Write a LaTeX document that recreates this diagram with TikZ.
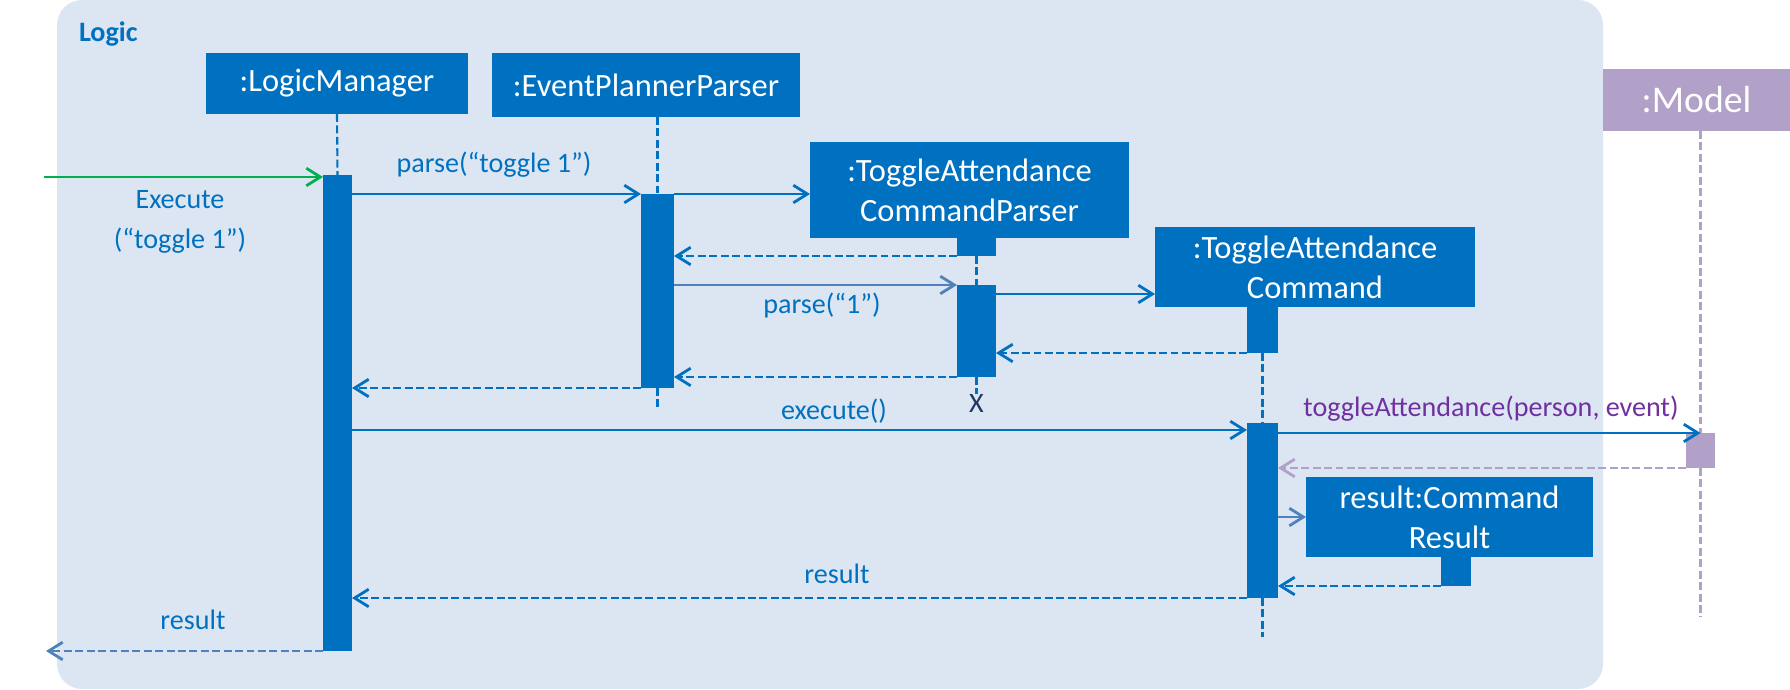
\documentclass[tikz,border=0pt]{standalone}
\usepackage{fontspec}
\setmainfont{Carlito}
\usepackage{tikz}
\usetikzlibrary{arrows.meta}
\usetikzlibrary{calc}
\usetikzlibrary{fit}
\definecolor{boxblue}{HTML}{0070C0}
\definecolor{logicbg}{HTML}{DCE6F2}
\definecolor{modelpurple}{HTML}{B1A0C7}
\definecolor{callpurple}{HTML}{7030A0}
\definecolor{startgreen}{HTML}{00B050}
\definecolor{softblue}{HTML}{4F81BD}
\definecolor{endnavy}{HTML}{1F3864}
\tikzset{
  every node/.style = {font = \fontsize{16}{22.5}\selectfont, inner sep=0pt, outer sep=0pt}
}
\tikzset{
    >={Straight Barb[length=8pt,width=10pt]}
}
\tikzset{
  lifebox/.style = {fill=boxblue, text=white, align=center, font=\fontsize{18.5}{22.8}\selectfont},
  activation/.style = {fill=boxblue},
  lifeline/.style = {draw=boxblue, line width=1.2pt, dash pattern=on 4.5pt off 2pt},
  call/.style = {->, draw=boxblue, line width=1.6pt},
  reply/.style = {->, draw=boxblue, line width=1.6pt, dash pattern=on 4.5pt off 2pt},
  msglabel/.style = {text=boxblue, anchor=base}
}
\newcommand{\actbar}[5]{
  \node[activation, fit={(#2,#3) (#4,#5)}] (#1) {};
}
\begin{document}
\begin{tikzpicture}[x=0.02cm, y=-0.02cm]
  \useasboundingbox (0,0) rectangle (1790,689);
  \fill[logicbg, rounded corners=0.5cm] (57,0) rectangle (1603,689);
  \node[anchor=base west, text=boxblue, font=\fontsize{16}{19}\selectfont\bfseries] (logic) at (79,42) {Logic};

  \node[lifebox, minimum width=5.24cm, minimum height=1.22cm] (lm) at (337,83.5) {:LogicManager};
  \node[lifebox, minimum width=6.16cm, minimum height=1.28cm] (epp) at (646,85) {:EventPlannerParser};
  \node[lifebox, minimum width=6.38cm, minimum height=1.92cm] (tacp) at (969.5,190) {:ToggleAttendance\\CommandParser};
  \node[lifebox, minimum width=6.4cm, minimum height=1.6cm] (tac) at (1315,267) {:ToggleAttendance\\Command};
  \node[lifebox, fill=modelpurple, font=\fontsize{21.5}{26}\selectfont, minimum width=3.74cm, minimum height=1.24cm] (model) at (1696.5,100) {:Model};
  \node[lifebox, minimum width=5.74cm, minimum height=1.6cm] (res) at (1449.5,517) {result:Command\\Result};

  \actbar{lmbar}{323}{175}{352}{651}
  \actbar{eppbar}{641}{194}{674}{388}
  \actbar{tacpa}{957}{238}{996}{256}
  \actbar{tacpb}{957}{285}{996}{377}
  \actbar{taca}{1247}{307}{1278}{353}
  \actbar{tacb}{1247}{423}{1278}{598}
  \actbar{resa}{1441}{557}{1471}{586}
  \node[fill=modelpurple, fit={(1686,433) (1715,468)}] (modelbar) {};

  \coordinate (eppend) at (657.5,407);
  \coordinate (tacend) at (1262.5,637);
  \coordinate (modelend) at (1700.5,617);
  \node[text=endnavy, anchor=base] (tacpx) at (976.5,412) {X};

  \draw[lifeline] (lm.south) -- (lmbar.north);
  \draw[lifeline] (eppbar.north |- epp.south) -- (eppbar.north);
  \draw[lifeline] (eppbar.south) -- (eppend);
  \draw[lifeline] (tacpa.south) -- (tacpb.north);
  \draw[lifeline] (tacpb.south) -- (tacpx.north);
  \draw[lifeline] (taca.south) -- (tacb.north);
  \draw[lifeline] (tacb.south) -- (tacend);
  \draw[lifeline, draw=modelpurple] (modelbar.north |- model.south) -- (modelbar.north);
  \draw[lifeline, draw=modelpurple] (modelbar.south) -- (modelend);

  \coordinate (start) at (44,177);
  \draw[call, draw=startgreen] (start) -- (start -| lmbar.west);
  \node[msglabel, anchor=center, align=center] (execin) at (180,222) {Execute\\(“toggle 1”)};

  \draw[call] (eppbar.north west -| lmbar.east) -- (eppbar.north west);
  \node[msglabel] (parselab) at (494,173) {parse(“toggle 1”)};
  \draw[call] (eppbar.north east) -- (eppbar.north east -| tacp.west);
  \draw[reply] (tacpa.south west) -- (tacpa.south west -| eppbar.east);
  \draw[call, draw=softblue] (tacpb.north west -| eppbar.east) -- (tacpb.north west);
  \node[msglabel] (parseonelab) at (822,313) {parse(“1”)};
  \coordinate (mk) at ($(tacpb.north east)+(0,9)$);
  \draw[call] (mk) -- (mk -| tac.west);
  \draw[reply] (taca.south west) -- (taca.south west -| tacpb.east);
  \draw[reply] (tacpb.south west) -- (tacpb.south west -| eppbar.east);
  \draw[reply] (eppbar.south west) -- (eppbar.south west -| lmbar.east);

  \coordinate (ex) at ($(tacb.north west)+(0,7)$);
  \draw[call] (ex -| lmbar.east) -- (ex);
  \node[msglabel] (execlab) at (834,419) {execute()};
  \draw[call] (modelbar.north -| tacb.east) -- (modelbar.north);
  \node[msglabel, text=callpurple] (togglelab) at (1491,416) {toggleAttendance(person, event)};
  \draw[reply, draw=modelpurple] (modelbar.south west) -- (modelbar.south west -| tacb.east);
  \draw[call, draw=softblue] (res.west -| tacb.east) -- (res.west);
  \draw[reply] (resa.south west) -- (resa.south west -| tacb.east);
  \draw[reply] (tacb.south west) -- (tacb.south west -| lmbar.east);
  \node[msglabel] (resultlab) at (837,583) {result};

  \coordinate (finish) at (46,651);
  \draw[reply, draw=softblue] (lmbar.south west) -- (finish);
  \node[msglabel] (outlab) at (193,629) {result};
\end{tikzpicture}
\end{document}
